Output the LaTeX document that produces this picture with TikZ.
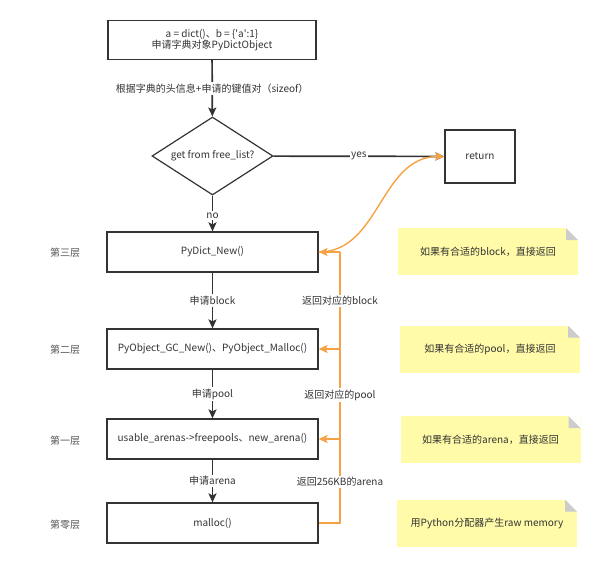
\documentclass[tikz,border=0pt]{standalone}
\usepackage{fontspec}
\setmainfont{Noto Sans CJK SC}[Ligatures=TeXOff]
\usetikzlibrary{shapes.geometric,arrows.meta}
\definecolor{ink}{HTML}{333333}
\definecolor{layergray}{HTML}{555555}
\definecolor{backorange}{HTML}{F6A244}
\definecolor{noteyellow}{HTML}{FFFBA8}
\definecolor{foldgray}{HTML}{CCCCCC}
\tikzset{
  every node/.style={text=ink,font=\fontsize{10}{11.5}\selectfont},
  box/.style={draw=ink,line width=1.2pt,fill=white,minimum width=211pt,minimum height=40pt,inner sep=2pt,align=center},
  decision/.style={draw=ink,line width=1.2pt,diamond,aspect=1.55,minimum width=121pt,minimum height=78pt,inner sep=1pt},
  flow/.style={draw=ink,line width=1.7pt,-{Stealth[length=9pt,width=8pt,inset=2pt]}},
  back/.style={draw=backorange,line width=1.4pt},
  backarrow/.style={back,-{Stealth[length=9pt,width=8pt,inset=2pt]}},
  lbl/.style={fill=white,inner sep=1.5pt},
  layer/.style={text=layergray},
  note/.style={fill=noteyellow,minimum width=180pt,minimum height=47pt,
    path picture={
      \fill[white]([xshift=-12pt]path picture bounding box.north east)--(path picture bounding box.north east)
        --([yshift=-12pt]path picture bounding box.north east)--cycle;
      \fill[foldgray]([xshift=-12pt]path picture bounding box.north east)--([xshift=-12pt,yshift=-12pt]path picture bounding box.north east)
        --([yshift=-12pt]path picture bounding box.north east)--cycle;}}
}
\begin{document}
\begin{tikzpicture}[x=1pt,y=-1pt]
       \useasboundingbox(0,0)rectangle(600,566);%画布

       \node[box,minimum width=208pt,minimum height=39pt](alloc)at(212,40){a = dict()、b = \{'a':1\}\\申请字典对象PyDictObject};%申请
       \node[decision](freelist)at(212.5,156){get from free\_list?};%判断
       \node[box,minimum width=70pt,minimum height=53pt](ret)at(480,156.5){return};%返回

       \node[box](pydict)at(212.5,252){PyDict\_New()};%第三层
       \node[box](gcnew)at(212.5,349){PyObject\_GC\_New()、PyObject\_Malloc()};%第二层
       \node[box](arenas)at(212.5,439){usable\_arenas->freepools、new\_arena()};%第一层
       \node[box](malloc)at(212.5,523){malloc()};%第零层

       \node[layer](l3)at(65,253){第三层};
       \node[layer](l2)at(65,350){第二层};
       \node[layer](l1)at(65,441){第一层};
       \node[layer](l0)at(65,525){第零层};

       \draw[flow](alloc)--node[lbl]{根据字典的头信息+申请的键值对（sizeof）}(freelist);
       \draw[flow](freelist)--node[lbl]{yes}(ret);
       \draw[flow](freelist)--node[lbl,pos=0.55]{no}(pydict);
       \draw[flow](pydict)--node[lbl]{申请block}(gcnew);
       \draw[flow](gcnew)--node[lbl]{申请pool}(arenas);
       \draw[flow](arenas)--node[lbl]{申请arena}(malloc);

       \coordinate(bus0)at(340,523);%回收线下端
       \coordinate(bus3)at(340,252);%回收线上端
       \draw[back](malloc.east)--(bus0)--(bus3);
       \draw[backarrow](bus3)--(pydict.east);
       \draw[backarrow](bus0|-gcnew.east)--(gcnew.east);
       \draw[backarrow](bus0|-arenas.east)--(arenas.east);
       \node[lbl](r3)at(340,301){返回对应的block};
       \node[lbl](r2)at(340,395){返回对应的pool};
       \node[lbl](r1)at(340,482){返回256KB的arena};
       \draw[backarrow](pydict.east)..controls(380,252)and(380,156.5)..(ret.west);%命中free_list

       \node[note](n3)at(488,251.5){如果有合适的block，直接返回};
       \node[note](n2)at(490,349){如果有合适的pool，直接返回};
       \node[note](n1)at(490.5,439.5){如果有合适的arena，直接返回};
       \node[note](n0)at(487,523){用Python分配器产生raw memory};

      \end{tikzpicture}
\end{document}
